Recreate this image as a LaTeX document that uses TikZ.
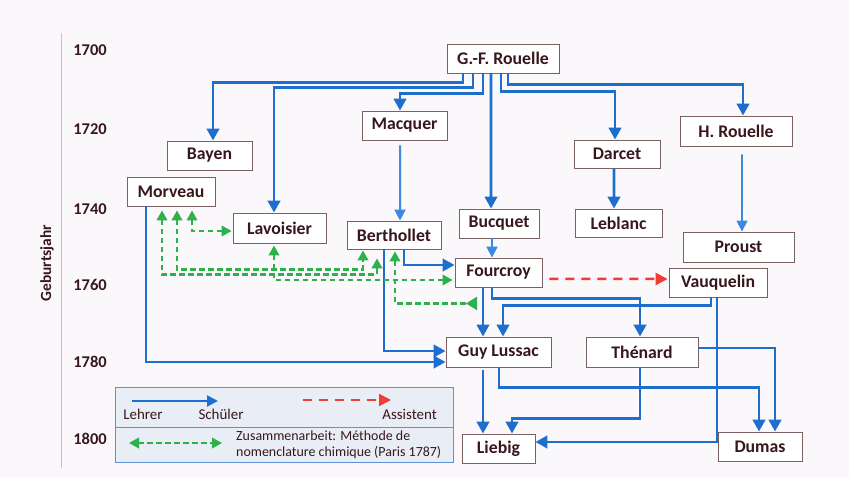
\documentclass[tikz,border=0pt]{standalone}
\usepackage{fontspec}
\setmainfont{Carlito}
\usetikzlibrary{arrows.meta}
\definecolor{bgc}{RGB}{250,248,250}
\definecolor{lblue}{RGB}{30,110,205}
\definecolor{llight}{RGB}{62,136,222}
\definecolor{cgreen}{RGB}{45,178,75}
\definecolor{cred}{RGB}{240,60,50}
\definecolor{txt}{RGB}{55,22,28}
\definecolor{boxd}{RGB}{125,96,96}
\definecolor{axisc}{RGB}{170,200,232}
\definecolor{legfill}{RGB}{233,237,245}
\definecolor{legdraw}{RGB}{95,145,214}
\begin{document}
\begin{tikzpicture}[x=1bp,y=-1bp,
  person/.style={draw=boxd, line width=0.9bp, fill=white, text=txt,
    font=\bfseries\fontsize{17.8}{20}\selectfont, inner sep=0pt},
  year/.style={text=txt, font=\bfseries\fontsize{16.5}{19}\selectfont},
  lehrer/.style={draw=lblue, line width=2.9bp, -{Triangle[length=12bp,width=12.5bp]}},
  lehrerlight/.style={draw=llight, line width=2bp, -{Triangle[length=11bp,width=11bp]}},
  coop/.style={draw=cgreen, line width=2.2bp, dash pattern=on 5.5bp off 3.5bp,
    {Triangle[length=10bp,width=10.5bp]}-{Triangle[length=10bp,width=10.5bp]}},
  assist/.style={draw=cred, line width=2.5bp, dash pattern=on 9bp off 7bp,
    -{Triangle[length=12bp,width=12bp]}},
  legtext/.style={text=txt, font=\fontsize{15}{18}\selectfont, inner sep=0pt},
  legsmall/.style={text=txt, font=\fontsize{14}{16}\selectfont, inner sep=0pt, anchor=west}
]
\useasboundingbox (0,0) rectangle (849,478);
\fill[bgc] (0,0) rectangle (849,478);
% axis
\draw[axisc, line width=1bp] (61,33) -- (61,468);
\node[year] (y1700) at (90,50.5) {1700};
\node[year] (y1720) at (90,129) {1720};
\node[year] (y1740) at (90,209) {1740};
\node[year] (y1760) at (90,285) {1760};
\node[year] (y1780) at (90,362) {1780};
\node[year] (y1800) at (90,438.5) {1800};
\node[text=txt, font=\bfseries\fontsize{15.5}{18}\selectfont, rotate=90] (gj) at (47,263) {Geburtsjahr};

% persons
\node[person, minimum width=112bp, minimum height=29bp] (gfr) at (503,58.5) {G.-F. Rouelle};
\node[person, minimum width=85bp, minimum height=29bp] (bayen) at (209.5,155.5) {Bayen};
\node[person, minimum width=88bp, minimum height=29bp] (morveau) at (171,191.5) {Morveau};
\node[person, minimum width=85bp, minimum height=29bp] (macquer) at (404.5,125.5) {Macquer};
\node[person, minimum width=93bp, minimum height=30bp] (lavoisier) at (279.5,228) {Lavoisier};
\node[person, minimum width=94bp, minimum height=28bp] (berthollet) at (394,235) {Berthollet};
\node[person, minimum width=80bp, minimum height=29bp] (bucquet) at (499,223.5) {Bucquet};
\node[person, minimum width=86bp, minimum height=28bp] (darcet) at (617,154) {Darcet};
\node[person, minimum width=87bp, minimum height=28bp] (leblanc) at (618.5,223) {Leblanc};
\node[person, minimum width=112bp, minimum height=30bp] (hrouelle) at (736,131) {H. Rouelle};
\node[person, minimum width=111bp, minimum height=30bp] (proust) at (738.5,247) {Proust};
\node[person, minimum width=87bp, minimum height=29bp] (fourcroy) at (498.5,272.5) {Fourcroy};
\node[person, minimum width=98bp, minimum height=29bp] (vauquelin) at (718,282.5) {Vauquelin};
\node[person, minimum width=105bp, minimum height=30bp] (guylussac) at (498.5,352) {Guy Lussac};
\node[person, minimum width=112bp, minimum height=30bp] (thenard) at (642,352) {Thénard};
\node[person, minimum width=73bp, minimum height=29bp] (liebig) at (498.5,448.5) {Liebig};
\node[person, minimum width=84bp, minimum height=29bp] (dumas) at (760,446.5) {Dumas};

% teacher -> student
\draw[lehrer] ([xshift=-40bp]gfr.south) -- ++(0,9) -| ([xshift=3.5bp]bayen.north);
\draw[lehrer] ([xshift=-30bp]gfr.south) -- ++(0,14) -| ([xshift=-5.5bp]lavoisier.north);
\draw[lehrer] ([xshift=-20bp]gfr.south) -- ++(0,20) -| ([xshift=-4.5bp]macquer.north);
\draw[lehrer] ([xshift=-12bp]gfr.south) -- ([xshift=-8bp]bucquet.north);
\draw[lehrer] ([xshift=-2bp]gfr.south) -- ++(0,18) -| ([xshift=-2bp]darcet.north);
\draw[lehrer] ([xshift=5bp]gfr.south) -- ++(0,11) -| ([xshift=7bp]hrouelle.north);
\draw[lehrerlight] ([xshift=-4.5bp,yshift=-5bp]macquer.south) -- ([xshift=6bp]berthollet.north);
\draw[lehrerlight] ([xshift=-7bp]bucquet.south) -- ([xshift=-6.5bp]fourcroy.north);
\draw[lehrer] ([xshift=-3bp]darcet.south) -- ([xshift=-4.5bp]leblanc.north);
\draw[lehrerlight, line width=1.6bp] ([xshift=6bp,yshift=-8bp]hrouelle.south) -- ([xshift=3.5bp]proust.north);
\draw[lehrer] ([xshift=-25bp]morveau.south) |- ([yshift=-10bp]guylussac.west);
\draw[lehrer] ([xshift=-10bp]berthollet.south) |- ([yshift=1bp]guylussac.west);
\draw[lehrer] ([xshift=10bp]berthollet.south) |- ([yshift=7.5bp]fourcroy.west);
\draw[lehrer] ([xshift=-15.5bp]fourcroy.south) -- ([xshift=-15.5bp]guylussac.north);
\draw[lehrer] ([xshift=-6.5bp]fourcroy.south) -- ++(0,11) -| ([xshift=-2bp]thenard.north);
\draw[lehrer] ([xshift=-7bp]vauquelin.south) -- ++(0,8) -| ([xshift=4.5bp]guylussac.north);
\draw[lehrer] ([xshift=-1bp]vauquelin.south) |- ([yshift=6.5bp]liebig.east);
\draw[lehrer] ([xshift=-15.5bp,yshift=-3bp]guylussac.south) -- ([xshift=-15.5bp]liebig.north);
\draw[lehrer] ([xshift=0.5bp]guylussac.south) -- ++(0,20) -| ([xshift=-1bp]dumas.north);
\draw[lehrer] ([xshift=-2bp]thenard.south) -- ++(0,51) -| ([xshift=13.5bp]liebig.north);
\draw[lehrer] ([yshift=4bp]thenard.east) -| ([xshift=15bp]dumas.north);

% assistant
\draw[assist] ([xshift=7bp,yshift=-6.5bp]fourcroy.east) -- ([xshift=-1bp,yshift=3.5bp]vauquelin.west);

% collaboration
\draw[coop] ([xshift=21bp,yshift=-4bp]morveau.south) |- ([xshift=-1bp,yshift=-3bp]lavoisier.west);
\draw[coop] ([xshift=6bp,yshift=-4bp]morveau.south) -- ++(0,59) -| ([xshift=-31bp,yshift=-1bp]berthollet.south);
\draw[coop] ([xshift=-9bp,yshift=-4bp]morveau.south) -- ++(0,64) -| ([xshift=-17bp,yshift=-9bp]berthollet.south);
\draw[coop] ([xshift=-5.5bp,yshift=-2bp]lavoisier.south) |- ([xshift=-2bp,yshift=-7.5bp]fourcroy.west);
\draw[coop, {Triangle[length=10bp,width=10.5bp]}-{Triangle[length=11bp,width=13bp,reversed]}]
  ([xshift=1bp,yshift=-2bp]berthollet.south) |- ([xshift=-21.5bp,yshift=-16bp]fourcroy.south);

% legend
\draw[legdraw, fill=legfill, line width=1bp] (115,387) rectangle (453,462);
\draw[legdraw, line width=0.8bp] (115,427) -- (453,427);
\coordinate (la1) at (132,401);
\coordinate (la2) at (218,401);
\draw[draw=lblue, line width=2bp, -{Triangle[length=11bp,width=11bp]}] (la1) -- (la2);
\node[legtext] (lehrer) at (143,414) {Lehrer};
\node[legtext] (schueler) at (221,414) {Schüler};
\coordinate (ra1) at (303,400);
\coordinate (ra2) at (391,400);
\draw[assist, line width=2.2bp] (ra1) -- (ra2);
\node[legtext, anchor=east] (assistent) at (437,414) {Assistent};
\coordinate (ga1) at (129,443);
\coordinate (ga2) at (222,443);
\draw[coop] (ga1) -- (ga2);
\node[legsmall] (z1) at (236,435.5) {Zusammenarbeit: Méthode de};
\node[legsmall] (z2) at (236,452.5) {nomenclature chimique (Paris 1787)};
\end{tikzpicture}
\end{document}
